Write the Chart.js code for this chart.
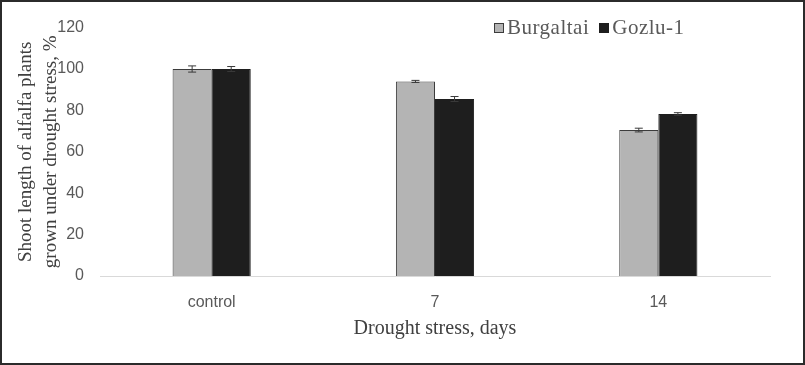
<!DOCTYPE html>
<html>
<head>
<meta charset="utf-8">
<script src="https://cdn.jsdelivr.net/npm/chart.js@4.4.1/dist/chart.umd.min.js"></script>
<style>
html,body{margin:0;padding:0;background:#fff}
#wrap{position:relative;width:805px;height:365px;box-sizing:border-box;border:2px solid #2b2b2b;background:#fff}
#wrap canvas{position:absolute;left:0;top:0}
#legend{position:absolute;top:13px;left:492px;font-family:"Liberation Serif","DejaVu Serif",serif;font-size:21px;letter-spacing:0.5px;color:#595959;white-space:nowrap}
#legend span.item{display:inline-block;margin-right:10px}
#legend span.box{display:inline-block;width:10px;height:10px;margin-right:3px;vertical-align:1px;box-sizing:border-box}
</style>
</head>
<body>
<div id="wrap">
<canvas id="chart" width="801" height="361"></canvas>
<div id="legend"></div>
</div>
<script>
const categories=["control","7","14"]
const burgaltai=[100,94,70.5]
const burgaltaiErr=[1.5,0.5,0.9]
const gozlu=[100,85.5,78.3]
const gozluErr=[1.2,1.2,0.6]
const yTicks=[0,20,40,60,80,100,120]

const seriesNames=["Burgaltai","Gozlu-1"]
const fills=["#b4b4b4","#1e1e1e"]
const borders=["#3c3c3c","#1e1e1e"]

// error bars drawn from the same scales as the bars
const errorBars={
id:"errorBars",
afterDatasetsDraw(chart){
const ctx=chart.ctx
const y=chart.scales.y
chart.data.datasets.forEach((ds,i)=>{
const meta=chart.getDatasetMeta(i)
meta.data.forEach((bar,j)=>{
const v=ds.data[j],e=ds.errors[j]
const top=y.getPixelForValue(v+e)
const bot=y.getPixelForValue(v-e)
ctx.save()
ctx.strokeStyle="#3a3a3a"
ctx.lineWidth=1
ctx.beginPath()
ctx.moveTo(bar.x,top);ctx.lineTo(bar.x,bot)
ctx.moveTo(bar.x-4,top);ctx.lineTo(bar.x+4,top)
ctx.moveTo(bar.x-4,bot);ctx.lineTo(bar.x+4,bot)
ctx.stroke()
ctx.restore()
})
})
}
}

const chart=new Chart(document.getElementById("chart"),{
type:"bar",
data:{
labels:categories,
datasets:[
{label:seriesNames[0],data:burgaltai,errors:burgaltaiErr,backgroundColor:fills[0],borderColor:borders[0],borderWidth:1,categoryPercentage:0.35,barPercentage:1},
{label:seriesNames[1],data:gozlu,errors:gozluErr,backgroundColor:fills[1],borderColor:borders[1],borderWidth:1,categoryPercentage:0.35,barPercentage:1}
]
},
options:{
responsive:false,
animation:false,
layout:{padding:{top:22,right:33,bottom:22,left:0}},
plugins:{legend:{display:false},tooltip:{enabled:false}},
scales:{
x:{
afterFit(scale){scale.height=65},
grid:{display:false},
border:{display:true,color:"#d9d9d9",width:1},
ticks:{color:"#595959",font:{family:"Liberation Sans",size:16},padding:9},
title:{display:true,text:"Drought stress, days",color:"#404040",font:{family:"Liberation Serif",size:20},padding:{top:0,bottom:0}}
},
y:{
min:0,max:120,
afterBuildTicks(scale){scale.ticks=yTicks.map(v=>({value:v}))},
afterFit(scale){scale.width=98},
grid:{display:false,drawTicks:false},
border:{display:false},
ticks:{color:"#595959",font:{family:"Liberation Sans",size:16},padding:16},
title:{display:true,text:["Shoot length of alfalfa plants","grown under drought stress, %"],color:"#404040",font:{family:"Liberation Serif",size:19,lineHeight:1.35},padding:{top:11,bottom:0}}
}
}
},
plugins:[errorBars]
})

const legend=document.getElementById("legend")
chart.data.datasets.forEach(ds=>{
const item=document.createElement("span")
item.className="item"
const box=document.createElement("span")
box.className="box"
box.style.background=ds.backgroundColor
box.style.border="1px solid "+ds.borderColor
item.appendChild(box)
item.appendChild(document.createTextNode(ds.label))
legend.appendChild(item)
})
</script>
</body>
</html>
